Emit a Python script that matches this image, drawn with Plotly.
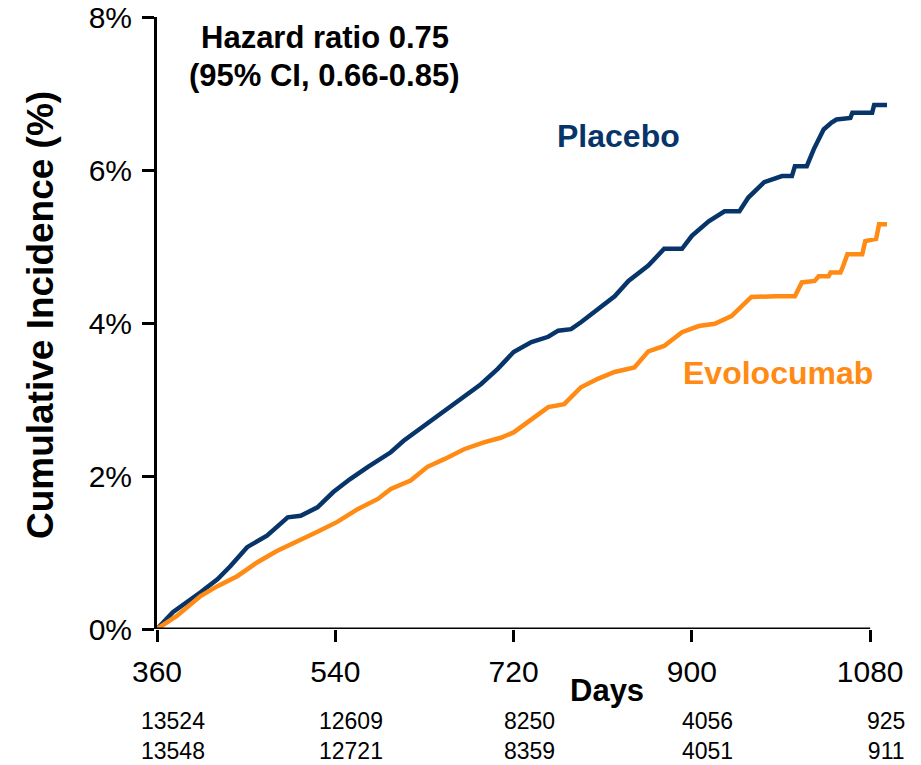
import plotly.graph_objects as go

# ---- data ----
placebo_days = [360, 376, 404, 421, 434, 451, 471, 492, 505, 522, 538, 555, 573, 596, 609, 623, 643, 667,
                687, 704, 720, 738, 755, 765, 778, 788, 805, 822, 836, 856, 872, 890, 900, 917, 933, 948,
                957, 973, 991, 1001, 1004, 1016, 1023, 1033, 1041, 1046, 1060, 1062, 1082, 1084, 1097]
placebo_pct = [0, 0.22, 0.48, 0.65, 0.82, 1.07, 1.22, 1.46, 1.48, 1.59, 1.79, 1.96, 2.12, 2.31, 2.46, 2.59, 2.78, 3.0,
               3.2, 3.4, 3.62, 3.75, 3.82, 3.9, 3.92, 4.01, 4.18, 4.35, 4.55, 4.75, 4.97, 4.97, 5.14, 5.33, 5.46, 5.46,
               5.64, 5.84, 5.92, 5.92, 6.05, 6.05, 6.27, 6.53, 6.62, 6.66, 6.68, 6.75, 6.75, 6.85, 6.85]

evolo_days = [360, 380, 404, 421, 441, 461, 481, 502, 522, 542, 563, 583, 596, 616, 633, 650, 670, 690,
              707, 720, 738, 755, 771, 788, 805, 822, 842, 856, 872, 890, 907, 923, 940, 960, 984, 1004,
              1011, 1024, 1028, 1038, 1040, 1050, 1052, 1057, 1072, 1075, 1086, 1089, 1097]
evolo_pct = [0, 0.17, 0.43, 0.56, 0.69, 0.87, 1.02, 1.14, 1.27, 1.40, 1.57, 1.70, 1.83, 1.94, 2.12, 2.22, 2.35, 2.44,
             2.50, 2.57, 2.74, 2.90, 2.94, 3.16, 3.27, 3.36, 3.42, 3.63, 3.70, 3.88, 3.96, 3.99, 4.09, 4.34, 4.35, 4.35,
             4.53, 4.55, 4.61, 4.61, 4.66, 4.66, 4.72, 4.90, 4.90, 5.07, 5.10, 5.29, 5.29]

x_ticks = [360, 540, 720, 900, 1080]
y_ticks = [0, 2, 4, 6, 8]
y_tick_labels = ["0%", "2%", "4%", "6%", "8%"]
at_risk_placebo = ["13524", "12609", "8250", "4056", "925"]
at_risk_evolo = ["13548", "12721", "8359", "4051", "911"]

NAVY = "#07356a"
ORANGE = "#ff8a14"
FONT = "Liberation Sans, Arial, sans-serif"

fig = go.Figure()
fig.add_trace(go.Scatter(x=placebo_days, y=placebo_pct, mode="lines",
                         line=dict(color=NAVY, width=4.5), name="Placebo"))
fig.add_trace(go.Scatter(x=evolo_days, y=evolo_pct, mode="lines",
                         line=dict(color=ORANGE, width=4.5), name="Evolocumab"))

# x axis line only from first to last tick
fig.add_shape(type="line", xref="x", yref="y", x0=x_ticks[0], x1=x_ticks[-1], y0=0, y1=0,
              line=dict(color="black", width=3), layer="above")


def ann(text, x, y, size, color="black", xref="paper", **kw):
    return dict(text=text, xref=xref, yref="paper", x=x, y=y, showarrow=False,
                xanchor="center", yanchor="middle",
                font=dict(size=size, color=color, family=FONT), **kw)


annotations = [
    ann("<b>Hazard ratio 0.75</b>", 0.2295, 0.9657, 31),
    ann("<b>(95% CI, 0.66-0.85)</b>", 0.2295, 0.905, 31),
    ann("<b>Placebo</b>", 0.630, 0.805, 32, NAVY),
    ann("<b>Evolocumab</b>", 0.848, 0.418, 32, ORANGE),
    ann("<b>Days</b>", 0.615, -0.0997, 31),
    ann("<b>Cumulative Incidence (%)</b>", -0.1598, 0.513, 37, textangle=-90),
]
# numbers at risk: one two-line text per column (placebo row above evolocumab row)
for d, a, b in zip(x_ticks, at_risk_placebo, at_risk_evolo):
    annotations.append(ann(f"{a}<br>{b}", d + 16, -0.175, 23, xref="x"))

fig.update_layout(
    width=921, height=765,
    margin=dict(l=157, r=32, t=17, b=136, autoexpand=False),
    paper_bgcolor="white", plot_bgcolor="white",
    showlegend=False,
    font=dict(family=FONT, color="black"),
    annotations=annotations,
    xaxis=dict(range=[360, 1099], tickvals=x_ticks, ticktext=[str(v) for v in x_ticks],
               showline=False, showgrid=False, zeroline=False, automargin=False,
               ticks="outside", ticklen=12, tickwidth=3, tickcolor="black",
               ticklabelstandoff=4,
               tickfont=dict(size=30, family=FONT, color="black")),
    yaxis=dict(range=[0, 8], tickvals=y_ticks, ticktext=y_tick_labels,
               showline=True, linewidth=3, linecolor="black", showgrid=False, zeroline=False,
               automargin=False,
               ticks="outside", ticklen=12, tickwidth=3, tickcolor="black",
               ticklabelstandoff=4,
               tickfont=dict(size=30, family=FONT, color="black")),
)

fig.write_html("out.html")
